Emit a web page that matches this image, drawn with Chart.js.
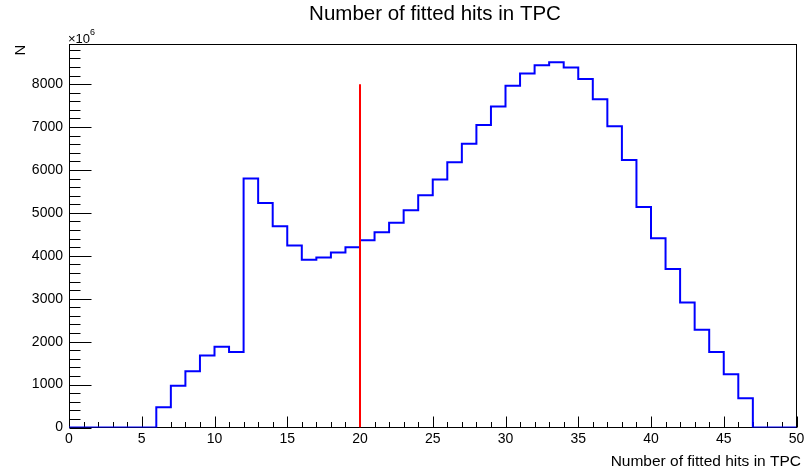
<!DOCTYPE html>
<html>
<head>
<meta charset="utf-8">
<title>Number of fitted hits in TPC</title>
<script src="https://cdn.jsdelivr.net/npm/chart.js@4.4.0/dist/chart.umd.min.js"></script>
<style>
  html, body { margin: 0; padding: 0; background: #fff; }
</style>
</head>
<body>
<canvas id="hitsChart" width="804" height="473"></canvas>
<script>
// histogram of fitted TPC hits, bin contents in units of 10^6
const binEdges = [0, 1, 2, 3, 4, 5, 6, 7, 8, 9, 10, 11, 12, 13, 14, 15, 16, 17, 18, 19, 20,
  21, 22, 23, 24, 25, 26, 27, 28, 29, 30, 31, 32, 33, 34, 35, 36, 37, 38, 39, 40,
  41, 42, 43, 44, 45, 46, 47, 48, 49, 50];
const counts = [0, 0, 0, 0, 0, 0, 470, 970, 1310, 1680,
  1880, 1760, 5800, 5230, 4690, 4240, 3910, 3960, 4080, 4200,
  4360, 4550, 4770, 5060, 5410, 5780, 6180, 6610, 7050, 7480,
  7960, 8250, 8440, 8510, 8390, 8120, 7650, 7020, 6230, 5140,
  4410, 3690, 2910, 2280, 1760, 1240, 680, 0, 0, 0];
const xTicks = [0, 5, 10, 15, 20, 25, 30, 35, 40, 45, 50];
const yTicks = [0, 1000, 2000, 3000, 4000, 5000, 6000, 7000, 8000];
const cutX = 20;        // red cut line
const cutTop = 8000;
const yMax = 8935;

const FONT = "'Liberation Sans', Arial, Helvetica, sans-serif";

// step points: each bin low edge carries its content, last edge closes the final bin
const histPoints = binEdges.map((e, i) => ({ x: e, y: counts[Math.min(i, counts.length - 1)] }));

// ROOT-like frame: box, ticks inside, axis titles, exponent
const rootFrame = {
  id: 'rootFrame',
  beforeDatasetsDraw(chart) {
    const ctx = chart.ctx;
    const a = chart.chartArea;
    const xs = chart.scales.x, ys = chart.scales.y;
    const L = Math.round(a.left) + 0.5, R = Math.round(a.right) - 0.5;
    const T = Math.round(a.top) + 0.5, B = Math.round(a.bottom) - 0.5;
    ctx.save();
    ctx.strokeStyle = '#000';
    ctx.lineWidth = 1;
    ctx.strokeRect(L, T, R - L, B - T);
    ctx.beginPath();
    // y ticks: major every 1000, minor every 200
    for (let v = 0; v <= yMax; v += 200) {
      const py = Math.round(ys.getPixelForValue(v)) + 0.5;
      const len = v % 1000 === 0 ? 22 : 11;
      ctx.moveTo(L, py);
      ctx.lineTo(L + len, py);
    }
    // x ticks: major every 5, minor every 1
    for (let v = 0; v <= 50; v += 1) {
      const px = Math.round(xs.getPixelForValue(v)) + 0.5;
      const len = v % 5 === 0 ? 11 : 5.5;
      ctx.moveTo(px, B);
      ctx.lineTo(px, B - len);
    }
    ctx.stroke();
    ctx.restore();
  },
  afterDraw(chart) {
    const ctx = chart.ctx;
    ctx.save();
    ctx.fillStyle = '#000';
    ctx.textBaseline = 'alphabetic';
    // title
    ctx.font = '20.5px ' + FONT;
    ctx.textAlign = 'center';
    ctx.fillText('Number of fitted hits in TPC', 435, 20);
    // x axis title
    ctx.font = '15.5px ' + FONT;
    ctx.textAlign = 'right';
    ctx.fillText('Number of fitted hits in TPC', 801, 465.5);
    // exponent
    ctx.font = '13px ' + FONT;
    ctx.textAlign = 'left';
    ctx.fillText('\u00d710', 68, 43);
    ctx.font = '9px ' + FONT;
    ctx.fillText('6', 90, 35);
    // y axis title
    ctx.translate(25, 50);
    ctx.rotate(-Math.PI / 2);
    ctx.font = '15px ' + FONT;
    ctx.textAlign = 'center';
    ctx.fillText('N', 0, 0);
    ctx.restore();
  }
};

const chart = new Chart(document.getElementById('hitsChart'), {
  type: 'line',
  data: {
    datasets: [
      {
        label: 'cut',
        data: [{ x: cutX, y: 0 }, { x: cutX, y: cutTop }],
        borderColor: '#ff0000',
        borderWidth: 2,
        pointRadius: 0,
        fill: false
      },
      {
        label: 'hits',
        data: histPoints,
        stepped: true,
        borderColor: '#0000ff',
        borderWidth: 2,
        pointRadius: 0,
        fill: false
      }
    ]
  },
  options: {
    responsive: false,
    animation: false,
    layout: { padding: { top: 44, right: 7.5, bottom: 0, left: 0 } },
    plugins: {
      legend: { display: false },
      title: { display: false },
      tooltip: { enabled: false }
    },
    scales: {
      x: {
        type: 'linear',
        min: 0,
        max: 50,
        grid: { display: false, drawTicks: false },
        border: { display: false },
        ticks: {
          font: { family: FONT, size: 14 }, color: '#000', padding: 3,
          maxRotation: 0, autoSkip: false, callback: v => String(v)
        },
        afterBuildTicks: s => { s.ticks = xTicks.map(v => ({ value: v })); },
        afterFit: s => { s.height = 45.5; s.paddingLeft = 0; s.paddingRight = 0; }
      },
      y: {
        type: 'linear',
        min: 0,
        max: yMax,
        grid: { display: false, drawTicks: false },
        border: { display: false },
        ticks: { font: { family: FONT, size: 14 }, color: '#000', padding: 6, callback: v => String(v) },
        afterBuildTicks: s => { s.ticks = yTicks.map(v => ({ value: v })); },
        afterFit: s => { s.width = 69; s.paddingTop = 0; s.paddingBottom = 0; }
      }
    }
  },
  plugins: [rootFrame]
});
</script>
</body>
</html>
